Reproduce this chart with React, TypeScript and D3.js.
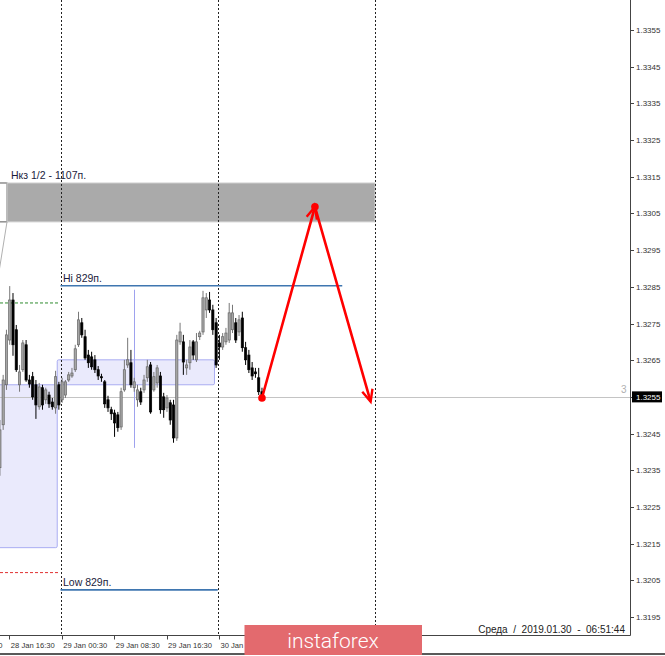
import React, { useEffect, useRef } from "react";
import * as d3 from "d3";

// M30 candles, first bar 28 Jan 14:30
const candleOpen = [
  1.32357, 1.32474, 1.32583, 1.32705, 1.32814, 1.32733, 1.32583, 1.32624, 1.32692, 1.32596,
  1.32605, 1.32583, 1.32523, 1.32575, 1.32542, 1.32555, 1.32536, 1.3252, 1.32583, 1.32542,
  1.32555, 1.32596, 1.32607, 1.32624, 1.32692, 1.32752, 1.32714, 1.32664, 1.32659, 1.32651,
  1.32624, 1.32605, 1.32591, 1.32542, 1.32515, 1.32506, 1.32501, 1.32468, 1.32569, 1.32637,
  1.32643, 1.32575, 1.32542, 1.32564, 1.32569, 1.32602, 1.32637, 1.32569, 1.32588, 1.32607,
  1.3255, 1.3252, 1.32534, 1.32528, 1.32438, 1.327, 1.327, 1.32629, 1.32643, 1.327,
  1.32651, 1.32714, 1.32727, 1.32787, 1.32814, 1.32787, 1.32752, 1.32697, 1.32686, 1.327,
  1.32705, 1.32733, 1.32752, 1.32727, 1.32765, 1.32684, 1.32664, 1.32629, 1.32618, 1.32602,
  1.32564,
];
const candleHigh = [
  1.32487, 1.3261, 1.32733, 1.32852, 1.32833, 1.32746, 1.32637, 1.32705, 1.32705, 1.3261,
  1.32618, 1.32596, 1.32588, 1.32583, 1.32575, 1.32564, 1.32547, 1.32621, 1.32591, 1.32602,
  1.32596, 1.32618, 1.32629, 1.32692, 1.32782, 1.32765, 1.32733, 1.32678, 1.32673, 1.32664,
  1.32634, 1.32613, 1.32596, 1.32553, 1.32523, 1.32515, 1.32509, 1.32575, 1.32651, 1.32711,
  1.32678, 1.32602, 1.32583, 1.32575, 1.3261, 1.32651, 1.32645, 1.32618, 1.32637, 1.32618,
  1.32561, 1.32555, 1.32542, 1.32542, 1.32719, 1.32752, 1.32719, 1.32651, 1.32705, 1.32705,
  1.32724, 1.3273, 1.32839, 1.32833, 1.32836, 1.32801, 1.32765, 1.32719, 1.32724, 1.32738,
  1.32806, 1.32801, 1.32765, 1.32773, 1.32782, 1.327, 1.32678, 1.32645, 1.32629, 1.32629,
  1.32575,
];
const candleLow = [
  1.32335, 1.3246, 1.32569, 1.32692, 1.32662, 1.32618, 1.32564, 1.32618, 1.32591, 1.32575,
  1.32542, 1.3249, 1.32515, 1.32515, 1.32531, 1.3252, 1.32515, 1.32504, 1.32515, 1.32534,
  1.32547, 1.32591, 1.32602, 1.32618, 1.32686, 1.32711, 1.32651, 1.32629, 1.32624, 1.32615,
  1.32596, 1.32591, 1.3252, 1.32509, 1.32487, 1.32441, 1.32455, 1.3246, 1.32564, 1.32629,
  1.32575, 1.32564, 1.32523, 1.32528, 1.32561, 1.32591, 1.32504, 1.32564, 1.32575, 1.32504,
  1.32493, 1.32509, 1.32474, 1.32425, 1.3243, 1.32692, 1.3261, 1.3261, 1.32624, 1.32651,
  1.32645, 1.32705, 1.32719, 1.32765, 1.32779, 1.32719, 1.32629, 1.32651, 1.32678, 1.32692,
  1.32697, 1.32724, 1.32697, 1.32716, 1.32673, 1.32637, 1.32615, 1.32596, 1.32602, 1.32555,
  1.32545,
];
const candleClose = [
  1.3246, 1.32596, 1.32719, 1.32814, 1.32692, 1.32624, 1.32618, 1.32697, 1.32596, 1.32585,
  1.3255, 1.32528, 1.32577, 1.32528, 1.32569, 1.32531, 1.32523, 1.32605, 1.32528, 1.32591,
  1.32591, 1.3261, 1.32615, 1.32681, 1.3276, 1.32719, 1.32656, 1.32643, 1.32632, 1.32624,
  1.32607, 1.32602, 1.32531, 1.3252, 1.32504, 1.32479, 1.32466, 1.32564, 1.32624, 1.32651,
  1.32583, 1.32591, 1.32569, 1.32536, 1.32596, 1.32632, 1.32509, 1.32605, 1.32629, 1.32515,
  1.32515, 1.32547, 1.32487, 1.32438, 1.32705, 1.32727, 1.32645, 1.32637, 1.32686, 1.32664,
  1.327, 1.32724, 1.3282, 1.3282, 1.32787, 1.32733, 1.32637, 1.32686, 1.32714, 1.32724,
  1.32779, 1.32779, 1.32705, 1.3276, 1.32684, 1.32651, 1.32624, 1.32607, 1.32613, 1.32564,
  1.3255,
];

const priceTicks = [
  1.3355, 1.3345, 1.3335, 1.3325, 1.3315, 1.3305, 1.3295, 1.3285, 1.3275,
  1.3265, 1.3255, 1.3245, 1.3235, 1.3225, 1.3215, 1.3205, 1.3195,
];
const timeTicks = [
  { t: new Date(2019, 0, 28, 8, 30), label: "28 Jan 08:30" },
  { t: new Date(2019, 0, 28, 16, 30), label: "28 Jan 16:30" },
  { t: new Date(2019, 0, 29, 0, 30), label: "29 Jan 00:30" },
  { t: new Date(2019, 0, 29, 8, 30), label: "29 Jan 08:30" },
  { t: new Date(2019, 0, 29, 16, 30), label: "29 Jan 16:30" },
  { t: new Date(2019, 0, 30, 0, 30), label: "30 Jan 00:30" },
];
const daySeparators = [new Date(2019, 0, 29), new Date(2019, 0, 30), new Date(2019, 0, 31)];

const currentPrice = 1.3255;
const hiLevel = 1.32853;
const lowLevel = 1.32024;
const targetZone = [1.33133, 1.33027];
const boxUpper = [1.32651, 1.32583];
const boxLower = [1.32583, 1.32139];
const greenLevel = 1.32806;
const redLevel = 1.32071;
const forecast = [
  { t: new Date(2019, 0, 30, 6, 45), p: 1.32547 },
  { t: new Date(2019, 0, 30, 14, 50), p: 1.33068 },
  { t: new Date(2019, 0, 30, 23, 20), p: 1.32537 },
];

const W = 665;
const H = 656;
const plotRight = 630;
const plotBottom = 635.5;
const font = "'Liberation Sans', Arial, sans-serif";

const App: React.FC = () => {
  const svgRef = useRef<SVGSVGElement | null>(null);

  useEffect(() => {
    if (!svgRef.current) return;
    const svg = d3.select(svgRef.current);
    svg.selectAll("*").remove();

    const x = d3.scaleTime()
      .domain([new Date(2019, 0, 29), new Date(2019, 0, 31)])
      .range([60.5, 375]);
    const y = d3.scaleLinear().domain([1.3355, 1.3195]).range([30, 617]);

    const start = new Date(2019, 0, 28, 14, 30).getTime();
    const HALF = 30 * 60 * 1000;
    const candles = candleOpen.map((o, i) => ({
      t: new Date(start + i * HALF + HALF / 2),
      o, h: candleHigh[i], l: candleLow[i], c: candleClose[i],
    }));

    svg.append("rect").attr("width", W).attr("height", H).attr("fill", "#fff");

    const plot = svg.append("g");
    plot.append("defs").append("clipPath").attr("id", "plotclip")
      .append("rect").attr("width", plotRight).attr("height", plotBottom);
    const g = plot.append("g").attr("clip-path", "url(#plotclip)");

    // background boxes
    const tBoxA = new Date(2019, 0, 28, 6, 0);
    const tBoxB = new Date(2019, 0, 28, 23, 30);
    const tBoxC = new Date(2019, 0, 29, 23, 30);
    g.append("rect")
      .attr("x", x(tBoxA)).attr("y", y(boxLower[0]))
      .attr("width", x(tBoxB) - x(tBoxA)).attr("height", y(boxLower[1]) - y(boxLower[0]))
      .attr("fill", "#eaeafc").attr("stroke", "#a9acf2").attr("rx", 1.5);
    g.append("rect")
      .attr("x", x(tBoxB)).attr("y", y(boxUpper[0]))
      .attr("width", x(tBoxC) - x(tBoxB)).attr("height", y(boxUpper[1]) - y(boxUpper[0]))
      .attr("fill", "#eaeafc").attr("stroke", "#a9acf2").attr("rx", 1.5);

    // target zone
    const tZoneA = new Date(2019, 0, 28, 10, 0);
    const tZoneB = new Date(2019, 0, 28, 15, 50);
    const tZoneEnd = new Date(2019, 0, 31);
    g.append("rect")
      .attr("x", x(tZoneA)).attr("y", y(targetZone[0]))
      .attr("width", x(tZoneB) - x(tZoneA)).attr("height", y(targetZone[1]) - y(targetZone[0]))
      .attr("fill", "#fff").attr("stroke", "#555");
    g.append("rect")
      .attr("x", x(tZoneB)).attr("y", y(targetZone[0]))
      .attr("width", x(tZoneEnd) - x(tZoneB)).attr("height", y(targetZone[1]) - y(targetZone[0]))
      .attr("fill", "#aaaaaa").attr("stroke", "#cfcfcf");
    g.append("line")
      .attr("x1", x(tZoneB)).attr("y1", y(targetZone[1]))
      .attr("x2", x(new Date(2019, 0, 28, 14, 30))).attr("y2", y(1.32878))
      .attr("stroke", "#b0b0b0");

    // levels to the left
    const tLevelEnd = new Date(2019, 0, 28, 23, 45);
    g.append("line")
      .attr("x1", 0).attr("x2", x(tLevelEnd))
      .attr("y1", y(greenLevel)).attr("y2", y(greenLevel))
      .attr("stroke", "#2e8b2e").attr("stroke-dasharray", "3,2");
    g.append("line")
      .attr("x1", 0).attr("x2", x(tLevelEnd))
      .attr("y1", y(redLevel)).attr("y2", y(redLevel))
      .attr("stroke", "#e03030").attr("stroke-dasharray", "3,2");

    // current price line
    g.append("line")
      .attr("x1", 0).attr("x2", plotRight)
      .attr("y1", Math.round(y(currentPrice)) + 0.5).attr("y2", Math.round(y(currentPrice)) + 0.5)
      .attr("stroke", "#c4c4c4");

    // crosshair-like vertical
    const tV = new Date(2019, 0, 29, 11, 15);
    g.append("line")
      .attr("x1", Math.round(x(tV)) + 0.5).attr("x2", Math.round(x(tV)) + 0.5)
      .attr("y1", y(1.32842)).attr("y2", y(1.32411))
      .attr("stroke", "#9ea2ee");

    // day separators
    g.selectAll("line.sep").data(daySeparators).enter().append("line")
      .attr("class", "sep")
      .attr("x1", d => Math.round(x(d)) + 0.5).attr("x2", d => Math.round(x(d)) + 0.5)
      .attr("y1", 0).attr("y2", plotBottom)
      .attr("stroke", "#222").attr("stroke-dasharray", "2,2");

    // candles
    const bw = 2.2;
    const cg = g.append("g");
    cg.selectAll("line.wick").data(candles).enter().append("line")
      .attr("x1", d => x(d.t)).attr("x2", d => x(d.t))
      .attr("y1", d => y(d.h)).attr("y2", d => y(d.l))
      .attr("stroke", d => (d.c >= d.o ? "#777" : "#000"))
      .attr("stroke-width", 1);
    cg.selectAll("rect.body").data(candles).enter().append("rect")
      .attr("x", d => x(d.t) - bw / 2)
      .attr("y", d => y(Math.max(d.o, d.c)))
      .attr("width", bw)
      .attr("height", d => Math.max(1, Math.abs(y(d.o) - y(d.c))))
      .attr("fill", d => (d.c >= d.o ? "#a6a6a6" : "#000"))
      .attr("stroke", d => (d.c >= d.o ? "#666" : "#000"))
      .attr("stroke-width", 0.7);

    // Hi / Low lines
    const tLineA = new Date(2019, 0, 29);
    const tHiEnd = new Date(2019, 0, 30, 19, 0);
    const tLowEnd = new Date(2019, 0, 30);
    g.append("line")
      .attr("x1", x(tLineA)).attr("x2", x(tHiEnd))
      .attr("y1", y(hiLevel)).attr("y2", y(hiLevel))
      .attr("stroke", "#3f76b0").attr("stroke-width", 1.6);
    g.append("line")
      .attr("x1", x(tLineA)).attr("x2", x(tLowEnd))
      .attr("y1", y(lowLevel)).attr("y2", y(lowLevel))
      .attr("stroke", "#3f76b0").attr("stroke-width", 1.6);

    const label = (tx: Date, p: number, text: string, dx: number) =>
      g.append("text")
        .attr("x", x(tx) + dx).attr("y", y(p) - 4)
        .attr("font-family", font).attr("font-size", 10.5)
        .attr("fill", "#1c1c3c").text(text);
    label(tLineA, hiLevel, "Hi 829п.", 2.5);
    label(tLineA, lowLevel, "Low 829п.", 2.5);
    label(tZoneB, targetZone[0], "Нкз 1/2 - 1107п.", 4);

    // forecast arrows
    const pts = forecast.map(d => [x(d.t), y(d.p)] as [number, number]);
    g.append("path")
      .attr("d", d3.line()(pts))
      .attr("fill", "none").attr("stroke", "#ff0000").attr("stroke-width", 2.6)
      .attr("stroke-linejoin", "miter");
    const head = (a: [number, number], b: [number, number]) => {
      const ang = Math.atan2(b[1] - a[1], b[0] - a[0]);
      const len = 13;
      const spread = 0.42;
      const p1: [number, number] = [b[0] - len * Math.cos(ang - spread), b[1] - len * Math.sin(ang - spread)];
      const p2: [number, number] = [b[0] - len * Math.cos(ang + spread), b[1] - len * Math.sin(ang + spread)];
      g.append("path")
        .attr("d", d3.line()([p1, b, p2]))
        .attr("fill", "none").attr("stroke", "#ff0000").attr("stroke-width", 2.4);
    };
    head(pts[0], pts[1]);
    head(pts[1], pts[2]);
    g.selectAll("circle.dot").data([pts[0], pts[1]]).enter().append("circle")
      .attr("cx", d => d[0]).attr("cy", d => d[1]).attr("r", 3.8).attr("fill", "#ff0000");

    // "3" tag at price line
    g.append("text")
      .attr("x", 621).attr("y", y(currentPrice) - 4)
      .attr("font-family", font).attr("font-size", 10).attr("fill", "#b0b0b0").text("3");

    // frame
    svg.append("line").attr("x1", plotRight + 0.5).attr("x2", plotRight + 0.5)
      .attr("y1", 0).attr("y2", plotBottom).attr("stroke", "#444");
    svg.append("line").attr("x1", 0).attr("x2", plotRight + 0.5)
      .attr("y1", plotBottom).attr("y2", plotBottom).attr("stroke", "#444");
    svg.append("line").attr("x1", 0).attr("x2", W)
      .attr("y1", 654).attr("y2", 654).attr("stroke", "#222").attr("stroke-width", 1.5);

    // price axis
    const pa = svg.append("g");
    pa.selectAll("line").data(priceTicks).enter().append("line")
      .attr("x1", plotRight).attr("x2", plotRight + 4)
      .attr("y1", d => Math.round(y(d)) + 0.5).attr("y2", d => Math.round(y(d)) + 0.5)
      .attr("stroke", "#444");
    pa.append("rect")
      .attr("x", plotRight + 2).attr("y", y(currentPrice) - 5.5)
      .attr("width", 30).attr("height", 11).attr("fill", "#000");
    pa.selectAll("text").data(priceTicks).enter().append("text")
      .attr("x", plotRight + 6).attr("y", d => y(d) + 3)
      .attr("font-family", font).attr("font-size", 8)
      .attr("fill", d => (d === currentPrice ? "#fff" : "#333"))
      .text(d => d3.format(".4f")(d));

    // time axis
    const ta = svg.append("g");
    ta.selectAll("line").data(timeTicks).enter().append("line")
      .attr("x1", d => Math.round(x(d.t)) - 1.5).attr("x2", d => Math.round(x(d.t)) - 1.5)
      .attr("y1", plotBottom).attr("y2", plotBottom + 4)
      .attr("stroke", "#444");
    ta.selectAll("text").data(timeTicks).enter().append("text")
      .attr("x", d => x(d.t) - 0.5).attr("y", 648)
      .attr("font-family", font).attr("font-size", 7.6).attr("fill", "#333")
      .text(d => d.label);

    // date stamp
    svg.append("text")
      .attr("x", 625).attr("y", 632.5).attr("text-anchor", "end")
      .attr("font-family", font).attr("font-size", 10).attr("fill", "#222")
      .style("white-space", "pre")
      .text("Среда  /  2019.01.30  -  06:51:44");

    // watermark badge
    svg.append("rect")
      .attr("x", 244.5).attr("y", 625).attr("width", 177.5).attr("height", 30)
      .attr("fill", "#e36a6e");
    svg.append("text")
      .attr("x", 333).attr("y", 647.5).attr("text-anchor", "middle")
      .attr("font-family", "Roboto, sans-serif").attr("font-weight", 300)
      .attr("font-size", 21).attr("fill", "#fff")
      .text("instaforex");
  }, []);

  return (
    <svg ref={svgRef} width={W} height={H}
      style={{ position: "absolute", left: 0, top: 0, display: "block" }} />
  );
};

export default App;
